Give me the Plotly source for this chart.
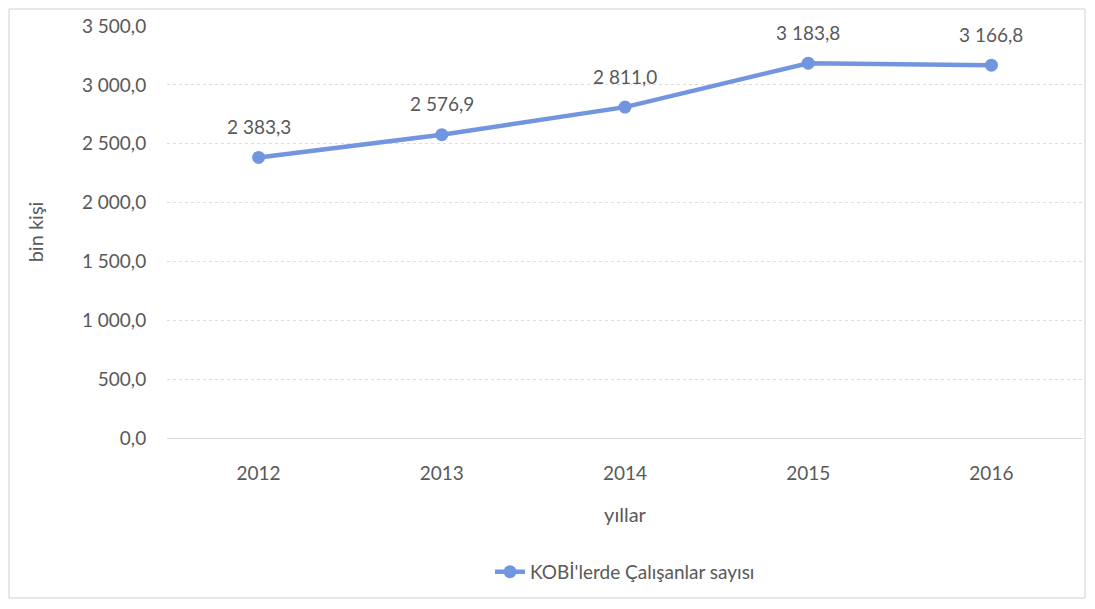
import plotly.graph_objects as go

years = ["2012", "2013", "2014", "2015", "2016"]
workers = [2383.3, 2576.9, 2811.0, 3183.8, 3166.8]
y_ticks = [0, 500, 1000, 1500, 2000, 2500, 3000, 3500]

line_color = "#7295df"
text_color = "#595959"
font_name = "Lato, Open Sans, sans-serif"

# page body adds 8px around the figure, so margins are shifted by that
fig = go.Figure()
fig.add_trace(
    go.Scatter(
        x=years,
        y=workers,
        mode="lines+markers",
        name="KOBİ'lerde Çalışanlar sayısı",
        line=dict(color=line_color, width=4.5),
        marker=dict(color=line_color, size=13),
        cliponaxis=False,
    )
)

# data labels sit a bit higher above the points than plotly's textposition
for i, val in enumerate(workers):
    fig.add_annotation(
        x=i,
        y=val,
        xref="x",
        yref="y",
        text=f"{val:,.1f}".replace(",", " ").replace(".", ","),
        showarrow=False,
        yshift=31,
        font=dict(size=19, color=text_color, family=font_name),
    )

fig.update_layout(
    width=1095,
    height=609,
    margin=dict(l=159, r=20, t=18, b=179),
    paper_bgcolor="white",
    plot_bgcolor="white",
    separators=", ",
    font=dict(family=font_name, size=19, color=text_color),
    showlegend=True,
    legend=dict(
        orientation="h",
        x=0.5,
        xanchor="center",
        y=-0.325,
        yanchor="middle",
        font=dict(size=19, color=text_color),
    ),
    xaxis=dict(
        type="category",
        range=[-0.5, 4.5],
        automargin=False,
        showgrid=False,
        showline=True,
        linecolor="#d9d9d9",
        ticks="outside",
        tickcolor="rgba(0,0,0,0)",
        ticklen=18,
        tickfont=dict(size=19, color=text_color),
        title=dict(text="yıllar", font=dict(size=20, color=text_color), standoff=25),
    ),
    yaxis=dict(
        range=[0, 3500],
        tickvals=y_ticks,
        tickformat=",.1f",
        automargin=False,
        showgrid=True,
        gridcolor="#dcdcdc",
        griddash="dot",
        zeroline=False,
        ticks="outside",
        tickcolor="rgba(0,0,0,0)",
        ticklen=16,
        tickfont=dict(size=19, color=text_color),
        title=dict(text="bin kişi", font=dict(size=20, color=text_color), standoff=32),
    ),
    shapes=[
        dict(
            type="rect",
            xref="paper",
            yref="paper",
            x0=(1 - 159) / 916,
            x1=(1077 - 159) / 916,
            y0=(430 - 590) / 412,
            y1=(430 - 1) / 412,
            line=dict(color="#d0d0d0", width=1),
            layer="below",
        )
    ],
)

fig.write_html("out.html")
